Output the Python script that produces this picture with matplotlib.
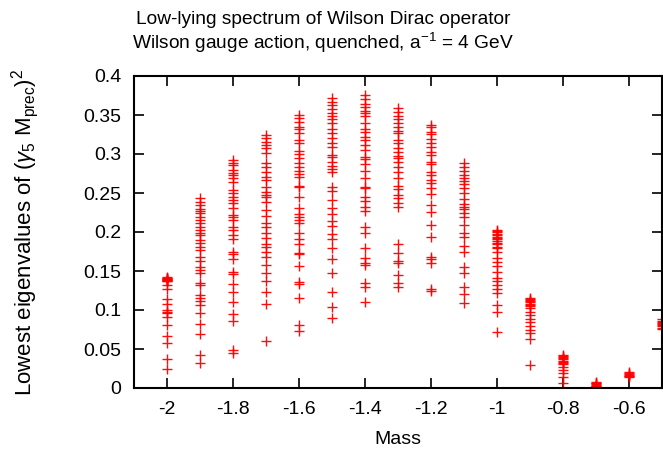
import matplotlib
matplotlib.use("Agg")
import matplotlib.pyplot as plt

plt.rcParams['font.family'] = ['Liberation Sans', 'DejaVu Sans']
plt.rcParams['mathtext.fontset'] = 'custom'
plt.rcParams['mathtext.rm'] = 'Liberation Sans'
plt.rcParams['mathtext.it'] = 'Liberation Sans:italic'
plt.rcParams['mathtext.bf'] = 'Liberation Sans:bold'

masses = [-2.0, -1.9, -1.8, -1.7, -1.6, -1.5, -1.4, -1.3, -1.2, -1.1,
          -1.0, -0.9, -0.8, -0.7, -0.6, -0.5]

ev_m200 = [0.142, 0.1412, 0.141, 0.1403, 0.1397, 0.139, 0.1385, 0.138, 0.1375, 0.137,
           0.132, 0.127, 0.1137, 0.1077, 0.1, 0.098, 0.0957, 0.0915, 0.0808, 0.0667,
           0.0573, 0.0368, 0.024]
ev_m190 = [0.243, 0.239, 0.2346, 0.230, 0.227, 0.224, 0.2197, 0.2154, 0.211, 0.2068,
           0.2026, 0.199, 0.196, 0.1897, 0.1855, 0.181, 0.177, 0.168, 0.163, 0.1556,
           0.151, 0.148, 0.135, 0.132, 0.119, 0.116, 0.1115, 0.106, 0.0966, 0.082,
           0.069, 0.042, 0.0325]
ev_m180 = [0.292, 0.289, 0.286, 0.2795, 0.276, 0.273, 0.269, 0.2645, 0.254, 0.2496,
           0.2445, 0.241, 0.2368, 0.2303, 0.2218, 0.2188, 0.2154, 0.2068, 0.2026, 0.196,
           0.1906, 0.1748, 0.1718, 0.165, 0.149, 0.146, 0.1333, 0.1235, 0.1098, 0.0949,
           0.0859, 0.0487, 0.0453]
ev_m170 = [0.3244, 0.320, 0.3158, 0.3115, 0.3073, 0.301, 0.288, 0.2837, 0.2773, 0.271,
           0.2667, 0.258, 0.2517, 0.2474, 0.2445, 0.239, 0.2282, 0.2205, 0.211, 0.206,
           0.199, 0.192, 0.1846, 0.1803, 0.1748, 0.168, 0.1577, 0.147, 0.1376, 0.1235,
           0.1073, 0.0603]
ev_m160 = [0.350, 0.3458, 0.3415, 0.335, 0.3316, 0.327, 0.318, 0.3145, 0.3043, 0.300,
           0.2944, 0.2889, 0.283, 0.2786, 0.2744, 0.271, 0.259, 0.2573, 0.2453, 0.2312,
           0.2231, 0.2197, 0.2154, 0.212, 0.1983, 0.1906, 0.1846, 0.1735, 0.1718, 0.1564,
           0.1363, 0.133, 0.115, 0.0808, 0.0735]
ev_m150 = [0.3714, 0.367, 0.3628, 0.3573, 0.352, 0.3487, 0.3444, 0.340, 0.3316, 0.327,
           0.320, 0.3145, 0.3085, 0.2987, 0.2957, 0.290, 0.2846, 0.2803, 0.2773, 0.2573,
           0.253, 0.241, 0.2303, 0.2231, 0.2145, 0.2081, 0.1974, 0.1906, 0.179, 0.1654,
           0.1478, 0.1227, 0.1043, 0.0902]
ev_m140 = [0.3756, 0.370, 0.364, 0.3607, 0.3556, 0.352, 0.3487, 0.3393, 0.3316, 0.3286,
           0.3214, 0.318, 0.3115, 0.3051, 0.2966, 0.2932, 0.2872, 0.2786, 0.2688, 0.2573,
           0.256, 0.2453, 0.2402, 0.2325, 0.2269, 0.2068, 0.1991, 0.179, 0.1662, 0.1607,
           0.1577, 0.135, 0.129, 0.1107]
ev_m130 = [0.3586, 0.3543, 0.3487, 0.3444, 0.340, 0.335, 0.330, 0.3265, 0.318, 0.3145,
           0.3073, 0.303, 0.2974, 0.2944, 0.290, 0.283, 0.2773, 0.2688, 0.259, 0.2547,
           0.2474, 0.2432, 0.2368, 0.2316, 0.1846, 0.1735, 0.1632, 0.1607, 0.1449, 0.1342,
           0.129]
ev_m120 = [0.337, 0.334, 0.3286, 0.3256, 0.3188, 0.3137, 0.3094, 0.303, 0.2987, 0.290,
           0.2872, 0.2773, 0.273, 0.2667, 0.2632, 0.256, 0.2487, 0.2346, 0.226, 0.209,
           0.1932, 0.168, 0.165, 0.1598, 0.1265, 0.1248]
ev_m110 = [0.288, 0.283, 0.2786, 0.273, 0.2688, 0.2658, 0.2615, 0.256, 0.2504, 0.2419,
           0.236, 0.2316, 0.229, 0.224, 0.2188, 0.209, 0.199, 0.194, 0.182, 0.1748,
           0.1556, 0.1478, 0.129, 0.120, 0.1094]
ev_m100 = [0.2026, 0.201, 0.1996, 0.198, 0.196, 0.194, 0.1927, 0.1905, 0.1885, 0.1862,
           0.1842, 0.181, 0.179, 0.1748, 0.1662, 0.162, 0.1568, 0.149, 0.1406, 0.1372,
           0.132, 0.127, 0.1214, 0.1064, 0.0979, 0.0722]
ev_m090 = [0.1158, 0.1143, 0.1128, 0.1113, 0.1098, 0.1081, 0.1064, 0.1047, 0.103, 0.0979,
           0.0936, 0.0885, 0.0842, 0.0799, 0.0744, 0.0701, 0.0628, 0.0295]
ev_m080 = [0.0423, 0.0408, 0.0393, 0.038, 0.0368, 0.0352, 0.0337, 0.0322, 0.0308, 0.0273,
           0.023, 0.0188, 0.0137, 0.006]
ev_m070 = [0.002, 0.003, 0.004, 0.005, 0.006, 0.007, 0.008]
ev_m060 = [0.014, 0.015, 0.016, 0.017, 0.018, 0.019, 0.020]
ev_m050 = [0.076, 0.0775, 0.079, 0.0805, 0.082, 0.0835, 0.085, 0.0865, 0.088]

columns = [ev_m200, ev_m190, ev_m180, ev_m170, ev_m160, ev_m150, ev_m140, ev_m130,
           ev_m120, ev_m110, ev_m100, ev_m090, ev_m080, ev_m070, ev_m060, ev_m050]

xticks = [-2.0, -1.8, -1.6, -1.4, -1.2, -1.0, -0.8, -0.6]
xtick_labels = ['-2', '-1.8', '-1.6', '-1.4', '-1.2', '-1', '-0.8', '-0.6']
yticks = [0, 0.05, 0.1, 0.15, 0.2, 0.25, 0.3, 0.35, 0.4]
ytick_labels = ['0', '0.05', '0.1', '0.15', '0.2', '0.25', '0.3', '0.35', '0.4']

fig = plt.figure(figsize=(6.63, 4.55), dpi=100)
ax = fig.add_axes([134/663, 1-388/455, 528/663, 312/455])

for m, vals in zip(masses, columns):
    ax.plot([m]*len(vals), vals, linestyle='none', marker='+', color='#ff0000',
            markersize=7.8, markeredgewidth=1.0, alpha=0.95)

ax.set_xlim(-2.1, -0.5)
ax.set_ylim(0, 0.4)
ax.set_xticks(xticks)
ax.set_xticklabels(xtick_labels)
ax.set_yticks(yticks)
ax.set_yticklabels(ytick_labels)
ax.tick_params(direction='in', length=7, width=1.2, top=True, right=True,
               labelsize=14, pad=9)
for s in ax.spines.values():
    s.set_linewidth(1.5)

fig.text(398/663, 1-440/455, 'Mass', ha='center', va='center', fontsize=14)
fig.text(25/663, 1-232/455,
         r'Lowest eigenvalues of ($\gamma_5$ M$_{\mathrm{prec}}$)$^2$',
         ha='center', va='center', rotation=90, fontsize=16)

fig.text(323/663, 1-19/455, 'Low-lying spectrum of Wilson Dirac operator',
         ha='center', va='center', fontsize=13.8)
fig.text(323/663, 1-43/455, r'Wilson gauge action, quenched, a$^{-1}$ = 4 GeV',
         ha='center', va='center', fontsize=13.8)

fig.savefig('out.png', dpi=100)
